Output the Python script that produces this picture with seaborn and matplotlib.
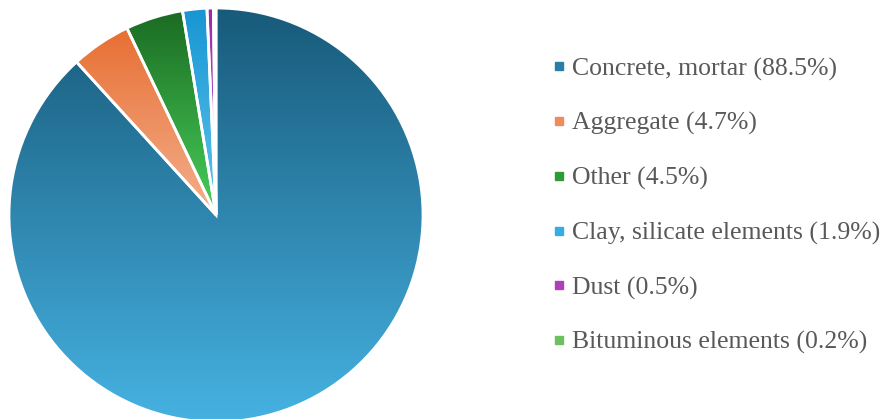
import numpy as np
import matplotlib
matplotlib.use("Agg")
import matplotlib.pyplot as plt
import matplotlib.colors as mcolors
from matplotlib.lines import Line2D
import seaborn as sns

# data
labels = ["Concrete, mortar", "Aggregate", "Other", "Clay, silicate elements",
          "Dust", "Bituminous elements"]
shares = [88.5, 4.7, 4.5, 1.9, 0.5, 0.2]

# gradient colours per slice (top -> bottom)
top_cols = ["#185a7a", "#e76f33", "#1b6a22", "#1796d2", "#9a2aa8", "#4a9e3c"]
bot_cols = ["#46b2e2", "#f4b08e", "#48d05a", "#60c4ee", "#d070d8", "#90d884"]
legend_cols = ["#2a7fa8", "#ee8c5e", "#2e9a3a", "#35aee3", "#b040b8", "#6cc060"]

sns.set_style("white")
plt.rcParams['font.family'] = ['Liberation Serif', 'DejaVu Serif']

fig = plt.figure(figsize=(8.82, 4.19), dpi=100)
ax = fig.add_axes([(216 - 207) / 882, (419 - 215 - 207) / 419, 414 / 882, 414 / 419])

wedges, _ = ax.pie(shares, startangle=90, counterclock=False,
                   colors=["none"] * len(shares),
                   wedgeprops=dict(edgecolor="white", linewidth=2, zorder=3))
ax.set_aspect("equal")
ax.axis("off")

# vertical gradient fill clipped to each wedge
for w, c1, c2 in zip(wedges, top_cols, bot_cols):
    ext = w.get_path().get_extents()
    cmap = mcolors.LinearSegmentedColormap.from_list("g", [c2, c1])
    grad = np.linspace(0, 1, 256).reshape(-1, 1)
    im = ax.imshow(grad, cmap=cmap, origin="lower", aspect="auto",
                   extent=[ext.x0, ext.x1, ext.y0, ext.y1], zorder=1)
    im.set_clip_path(w)

ax.set_xlim(-1, 1)
ax.set_ylim(-1, 1)

handles = [Line2D([0], [0], marker="s", linestyle="none", markersize=5.5,
                  markerfacecolor=c, markeredgecolor=c) for c in legend_cols]
texts = ["%s (%.1f%%)" % (l, s) for l, s in zip(labels, shares)]
leg = fig.legend(handles, texts, loc="upper left", bbox_to_anchor=(542 / 882, 1 - 47 / 419),
                 frameon=False, fontsize=18.5, labelspacing=1.22, handlelength=0.5,
                 handletextpad=0.25, borderaxespad=0)
for t in leg.get_texts():
    t.set_color("#595959")

fig.savefig("out.png", dpi=100)
